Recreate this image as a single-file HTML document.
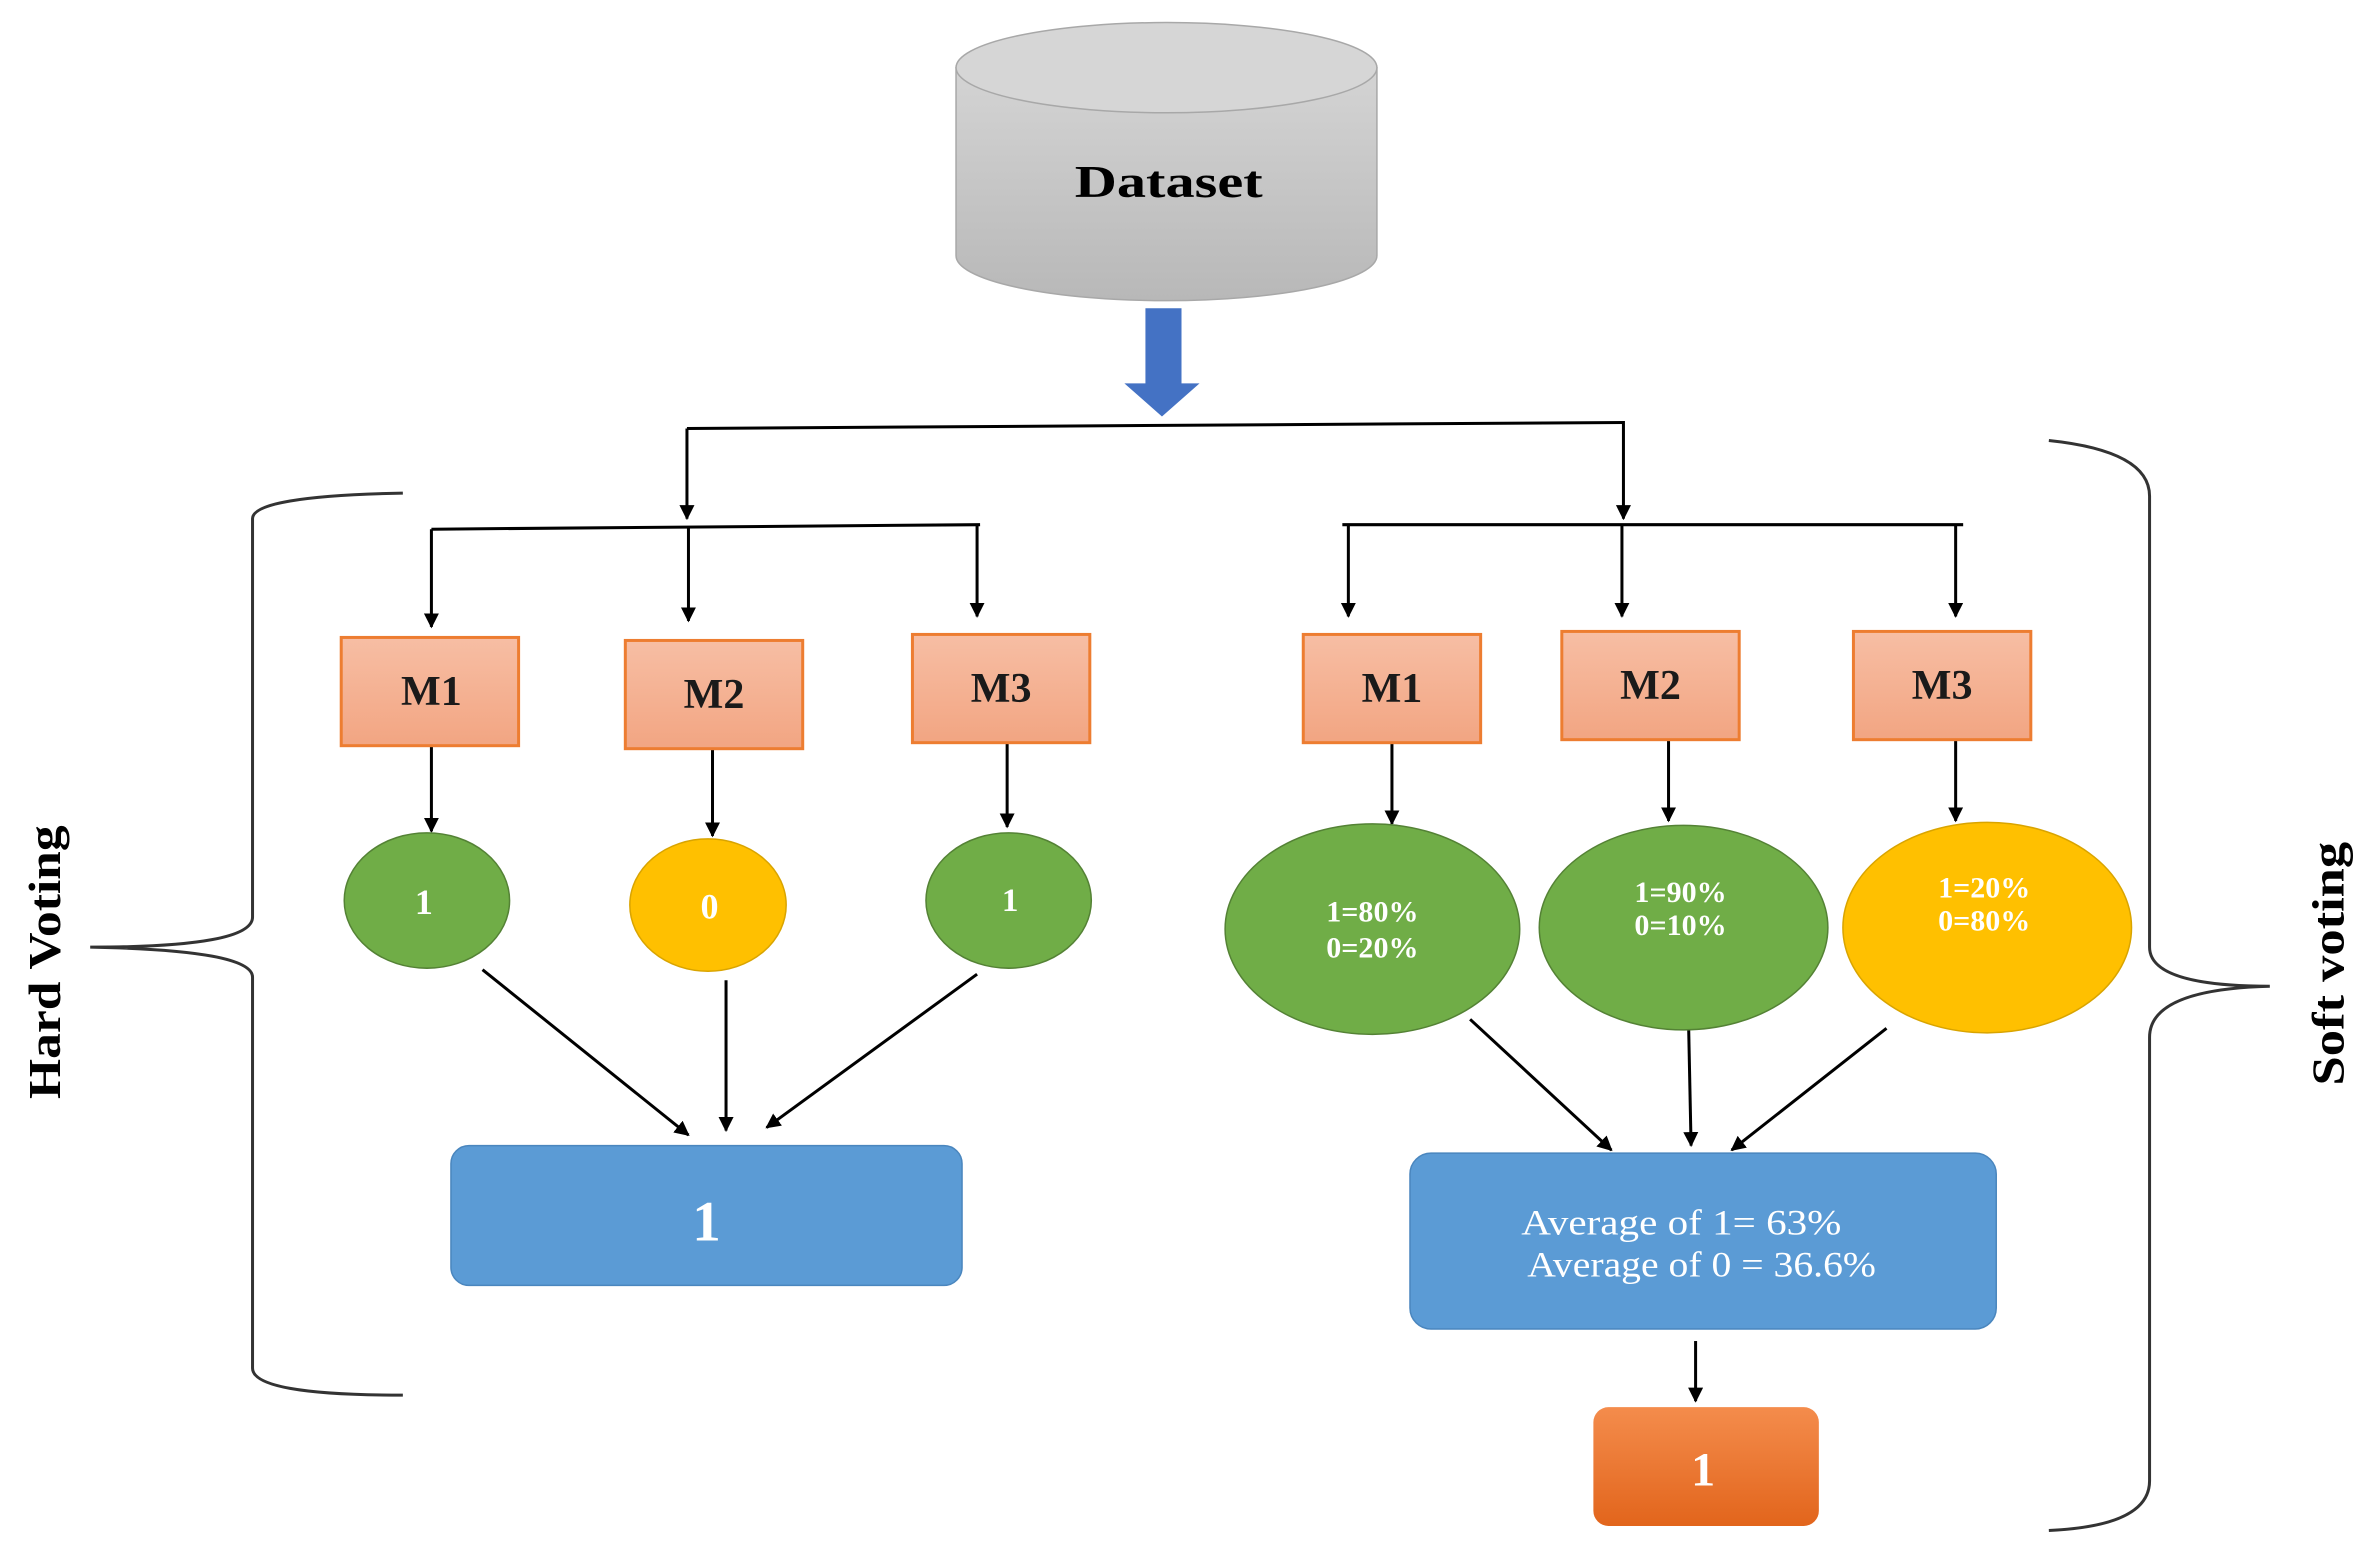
<!DOCTYPE html>
<html><head><meta charset="utf-8"><style>html,body{margin:0;padding:0;background:#fff}svg{display:block}</style></head>
<body>
<svg width="2357" height="1550" viewBox="0 0 1568 1031" preserveAspectRatio="none" xmlns="http://www.w3.org/2000/svg" font-family="'Liberation Serif',serif">
<defs>
<linearGradient id="cyl" x1="0" y1="0" x2="0" y2="1"><stop offset="0" stop-color="#d4d4d4"/><stop offset="1" stop-color="#b8b8b8"/></linearGradient>
<linearGradient id="sal" x1="0" y1="0" x2="0" y2="1"><stop offset="0" stop-color="#f7bea4"/><stop offset="1" stop-color="#f2a582"/></linearGradient>
<linearGradient id="org" x1="0" y1="0" x2="0" y2="1"><stop offset="0" stop-color="#f48c4c"/><stop offset="1" stop-color="#e2651c"/></linearGradient>
<marker id="ah" markerWidth="10" markerHeight="10" refX="9" refY="5" orient="auto" markerUnits="userSpaceOnUse"><path d="M0,0 L10,5 L0,10 z" fill="#000"/></marker>
</defs>
<path d="M636,45 L636,170 A140,30 0 0 0 916,170 L916,45 Z" fill="url(#cyl)" stroke="#a8a8a8"/>
<ellipse cx="776" cy="45" rx="140" ry="30" fill="#d6d6d6" stroke="#a8a8a8"/>
<text x="715" y="131" font-size="30" font-weight="bold" textLength="125" lengthAdjust="spacingAndGlyphs">Dataset</text>
<path d="M762,205 L786,205 L786,255 L798,255 L773,277 L748,255 L762,255 Z" fill="#4472c4"/>
<g stroke="#000" stroke-width="2" fill="none">
<line x1="457" y1="285" x2="1081" y2="281"/>
<line x1="457" y1="285" x2="457" y2="345" marker-end="url(#ah)"/>
<line x1="1080" y1="282" x2="1080" y2="345" marker-end="url(#ah)"/>
<line x1="287" y1="352" x2="652" y2="349"/>
<line x1="287" y1="352" x2="287" y2="417" marker-end="url(#ah)"/>
<line x1="458" y1="351" x2="458" y2="413" marker-end="url(#ah)"/>
<line x1="650" y1="349" x2="650" y2="410" marker-end="url(#ah)"/>
<line x1="893" y1="349" x2="1306" y2="349"/>
<line x1="897" y1="349" x2="897" y2="410" marker-end="url(#ah)"/>
<line x1="1079" y1="349" x2="1079" y2="410" marker-end="url(#ah)"/>
<line x1="1301" y1="349" x2="1301" y2="410" marker-end="url(#ah)"/>
<line x1="287" y1="496" x2="287" y2="553" marker-end="url(#ah)"/>
<line x1="474" y1="498" x2="474" y2="556" marker-end="url(#ah)"/>
<line x1="670" y1="494" x2="670" y2="550" marker-end="url(#ah)"/>
<line x1="926" y1="494" x2="926" y2="548" marker-end="url(#ah)"/>
<line x1="1110" y1="492" x2="1110" y2="546" marker-end="url(#ah)"/>
<line x1="1301" y1="492" x2="1301" y2="546" marker-end="url(#ah)"/>
<line x1="321" y1="645" x2="458" y2="755" marker-end="url(#ah)"/>
<line x1="483" y1="652" x2="483" y2="752" marker-end="url(#ah)"/>
<line x1="650" y1="648" x2="510" y2="750" marker-end="url(#ah)"/>
<line x1="978" y1="678" x2="1072" y2="765" marker-end="url(#ah)"/>
<line x1="1123" y1="665" x2="1125" y2="762" marker-end="url(#ah)"/>
<line x1="1255" y1="684" x2="1152" y2="765" marker-end="url(#ah)"/>
<line x1="1128" y1="892" x2="1128" y2="932" marker-end="url(#ah)"/>
</g>
<g fill="url(#sal)" stroke="#ed7d31" stroke-width="2">
<rect x="227" y="424" width="118" height="72"/>
<rect x="416" y="426" width="118" height="72"/>
<rect x="607" y="422" width="118" height="72"/>
<rect x="867" y="422" width="118" height="72"/>
<rect x="1039" y="420" width="118" height="72"/>
<rect x="1233" y="420" width="118" height="72"/>
</g>
<g font-size="28" font-weight="bold" text-anchor="middle" fill="#1a1a1a">
<text x="287" y="469">M1</text><text x="475" y="471">M2</text><text x="666" y="467">M3</text>
<text x="926" y="467">M1</text><text x="1098" y="465">M2</text><text x="1292" y="465">M3</text>
</g>
<g stroke="#548235" stroke-width="1">
<ellipse cx="284" cy="599" rx="55" ry="45" fill="#70ad47"/>
<ellipse cx="471" cy="602" rx="52" ry="44" fill="#ffc000" stroke="#d9a400"/>
<ellipse cx="671" cy="599" rx="55" ry="45" fill="#70ad47"/>
<ellipse cx="913" cy="618" rx="98" ry="70" fill="#70ad47"/>
<ellipse cx="1120" cy="617" rx="96" ry="68" fill="#70ad47"/>
<ellipse cx="1322" cy="617" rx="96" ry="70" fill="#ffc000" stroke="#d9a400"/>
</g>
<g fill="#fff" font-weight="bold" text-anchor="middle">
<text x="282" y="608" font-size="24">1</text>
<text x="472" y="611" font-size="24">0</text>
<text x="672" y="606" font-size="22">1</text>
<text x="913" y="613" font-size="20">1=80%</text><text x="913" y="637" font-size="20">0=20%</text>
<text x="1118" y="600" font-size="20">1=90%</text><text x="1118" y="622" font-size="20">0=10%</text>
<text x="1320" y="597" font-size="20">1=20%</text><text x="1320" y="619" font-size="20">0=80%</text>
</g>
<rect x="300" y="762" width="340" height="93" rx="12" fill="#5b9bd5" stroke="#4a86be"/>
<text x="470" y="825" font-size="38" fill="#fff" text-anchor="middle" font-weight="bold">1</text>
<rect x="938" y="767" width="390" height="117" rx="14" fill="#5b9bd5" stroke="#4a86be"/>
<text x="1012" y="821" font-size="24" fill="#fff" textLength="213" lengthAdjust="spacingAndGlyphs">Average of  1= 63%</text>
<text x="1016" y="849" font-size="24" fill="#fff" textLength="232" lengthAdjust="spacingAndGlyphs">Average of 0 = 36.6%</text>
<rect x="1060" y="936" width="150" height="79" rx="10" fill="url(#org)"/>
<text x="1133" y="988" font-size="32" fill="#fff" text-anchor="middle" font-weight="bold">1</text>
<g stroke="#333" stroke-width="2" fill="none">
<path d="M268,328 Q168,330 168,345 L168,610 Q168,630 60,630 Q168,632 168,650 L168,910 Q168,928 268,928"/>
<path d="M1363,293 Q1430,300 1430,330 L1430,630 Q1430,656 1510,656 Q1430,658 1430,690 L1430,985 Q1430,1015 1363,1018"/>
</g>
<text transform="translate(40,731) rotate(-90)" font-size="30" font-weight="bold" textLength="182" lengthAdjust="spacingAndGlyphs">Hard Voting</text>
<text transform="translate(1559,722) rotate(-90)" font-size="30" font-weight="bold" textLength="162" lengthAdjust="spacingAndGlyphs">Soft voting</text>
</svg>
</body></html>
